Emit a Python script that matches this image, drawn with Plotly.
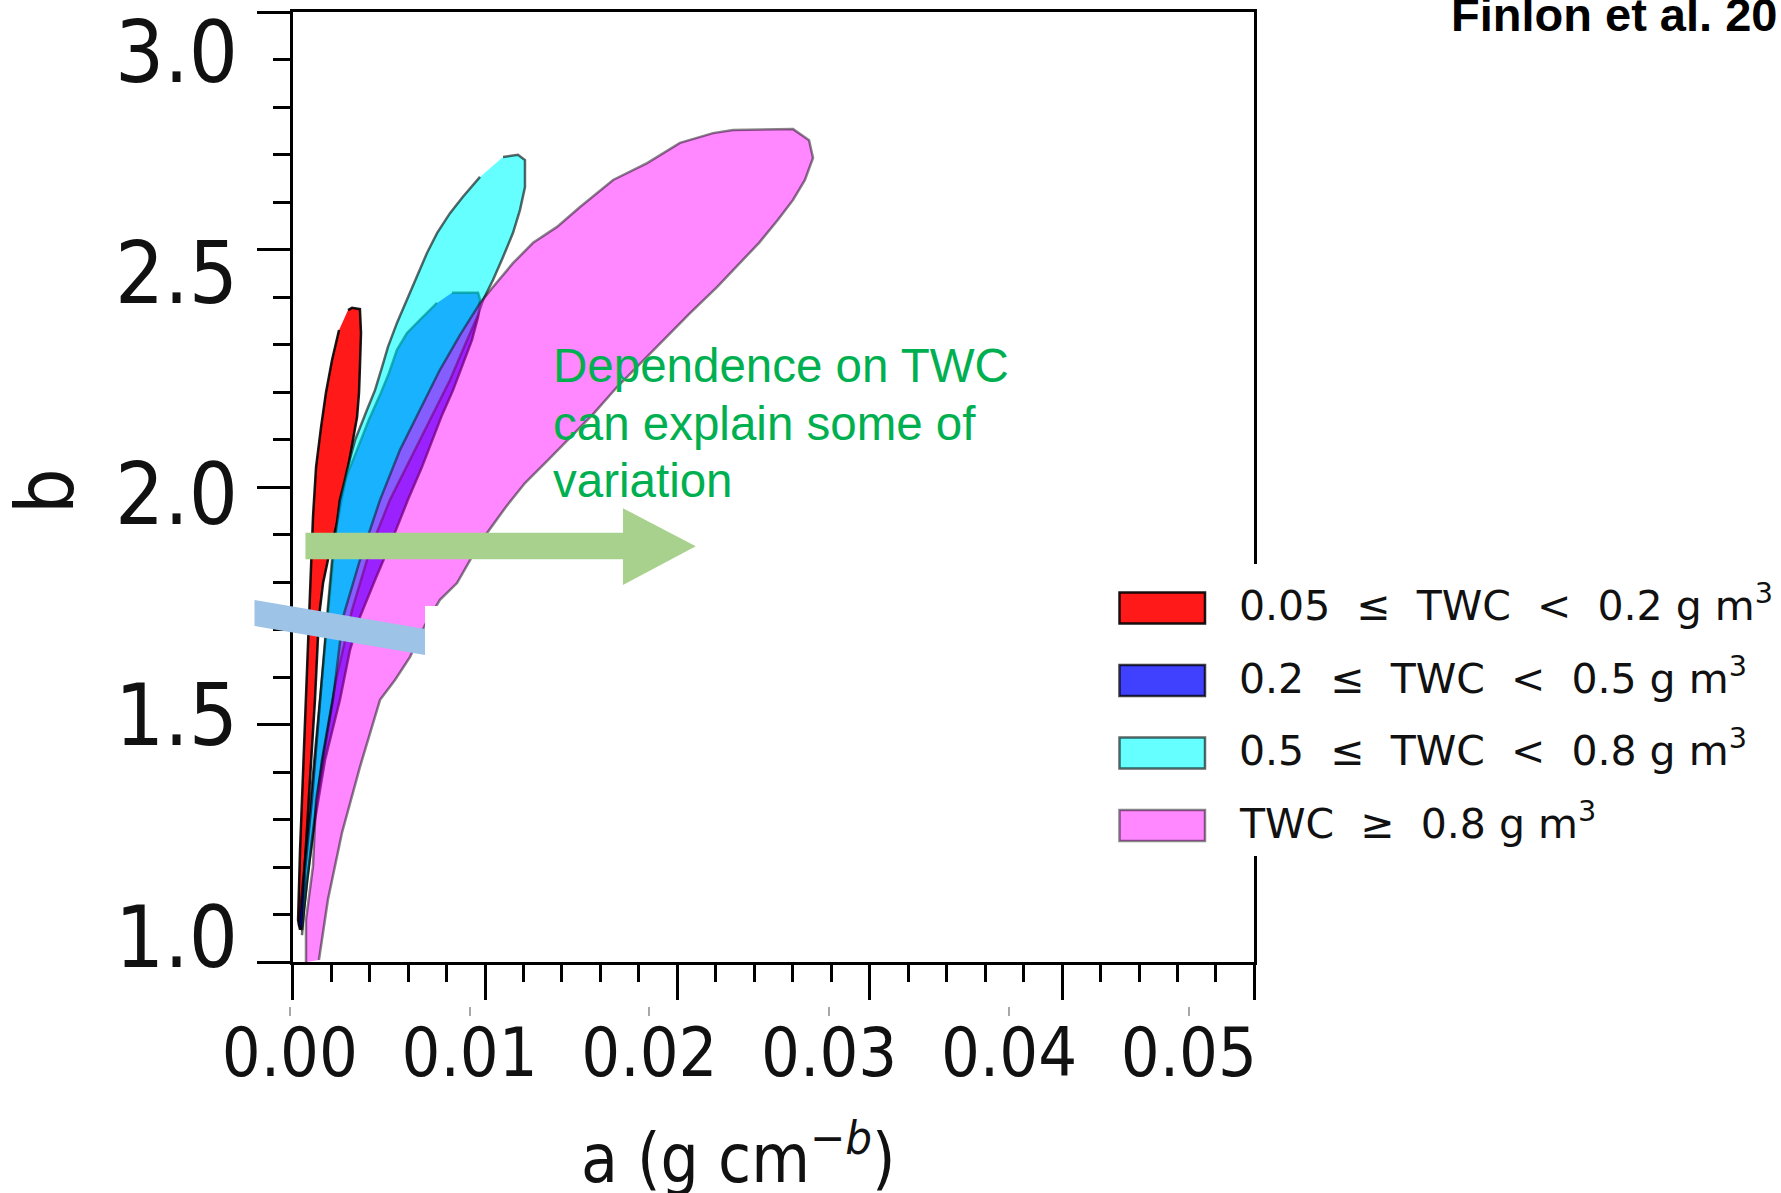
import plotly.graph_objects as go

W, H = 1781, 1193

# ---------------- data ----------------
twc_labels = [
    "0.05\u00a0\u00a0≤\u00a0\u00a0TWC\u00a0\u00a0&lt;\u00a0\u00a00.2 g m<sup>3</sup>",
    "0.2\u00a0\u00a0≤\u00a0\u00a0TWC\u00a0\u00a0&lt;\u00a0\u00a00.5 g m<sup>3</sup>",
    "0.5\u00a0\u00a0≤\u00a0\u00a0TWC\u00a0\u00a0&lt;\u00a0\u00a00.8 g m<sup>3</sup>",
    "TWC\u00a0\u00a0≥\u00a0\u00a00.8 g m<sup>3</sup>",
]

# outline of each TWC region in (a, b) space
red_a = [0.00324, 0.00346, 0.00390, 0.00396, 0.00390, 0.00385, 0.00374, 0.00352, 0.00324, 0.00296,
         0.00268, 0.00224, 0.00185, 0.00162, 0.00140, 0.00112, 0.00090, 0.00068, 0.00057, 0.00046,
         0.00057, 0.00073, 0.00090, 0.00107, 0.00118, 0.00129, 0.00146, 0.00174, 0.00201, 0.00235,
         0.00274]
red_b = [2.416, 2.421, 2.418, 2.364, 2.287, 2.229, 2.174, 2.122, 2.061, 2.003,
         1.942, 1.874, 1.799, 1.722, 1.535, 1.354, 1.196, 1.060, 1.015, 1.037,
         1.196, 1.354, 1.535, 1.722, 1.835, 1.948, 2.061, 2.152, 2.229, 2.303,
         2.371]

blue_a = [0.00902, 0.01047, 0.01058, 0.01047, 0.01013, 0.00963, 0.00908, 0.00847, 0.00791, 0.00735,
          0.00657, 0.00568, 0.00474, 0.00390, 0.00335, 0.00279, 0.00196, 0.00140, 0.00096, 0.00068,
          0.00051, 0.00079, 0.00118, 0.00168, 0.00212, 0.00246, 0.00279, 0.00318, 0.00374, 0.00440,
          0.00507, 0.00552, 0.00596, 0.00652, 0.00724, 0.00819]
blue_b = [2.455, 2.455, 2.439, 2.400, 2.348, 2.292, 2.235, 2.179, 2.122, 2.061,
          1.987, 1.896, 1.806, 1.722, 1.648, 1.535, 1.399, 1.263, 1.128, 1.015,
          1.026, 1.150, 1.309, 1.535, 1.722, 1.874, 1.987, 2.043, 2.100, 2.168,
          2.229, 2.274, 2.326, 2.364, 2.394, 2.432]

cyan_a = [0.01186, 0.01269, 0.01308, 0.01308, 0.01280, 0.01241, 0.01186, 0.01130, 0.01075, 0.01047,
          0.00974, 0.00891, 0.00780, 0.00669, 0.00557, 0.00446, 0.00346, 0.00257, 0.00179, 0.00123,
          0.00079, 0.00068, 0.00085, 0.00123, 0.00168, 0.00207, 0.00240, 0.00279, 0.00318, 0.00363,
          0.00429, 0.00474, 0.00513, 0.00546, 0.00596, 0.00652, 0.00707, 0.00763, 0.00819, 0.00891,
          0.00963, 0.01058]
cyan_b = [2.762, 2.767, 2.755, 2.694, 2.642, 2.590, 2.536, 2.484, 2.439, 2.405,
          2.337, 2.258, 2.168, 2.077, 1.987, 1.874, 1.738, 1.580, 1.399, 1.218,
          1.060, 1.003, 1.150, 1.309, 1.535, 1.722, 1.874, 1.987, 2.055, 2.122,
          2.190, 2.235, 2.287, 2.333, 2.387, 2.439, 2.491, 2.545, 2.590, 2.635,
          2.672, 2.717]

pink_a = [0.00090, 0.00090, 0.00129, 0.00146, 0.00240, 0.00296, 0.00390, 0.00502, 0.00613, 0.00724,
          0.00835, 0.00947, 0.01058, 0.01130, 0.01241, 0.01353, 0.01486, 0.01614, 0.01798, 0.01987,
          0.02170, 0.02354, 0.02465, 0.02799, 0.02888, 0.02910, 0.02865, 0.02799, 0.02715, 0.02610,
          0.02504, 0.02376, 0.02226, 0.02076, 0.01948, 0.01820, 0.01692, 0.01564, 0.01436, 0.01308,
          0.01202, 0.01097, 0.01013, 0.00930, 0.00835, 0.00752, 0.00669, 0.00585, 0.00502, 0.00390,
          0.00290, 0.00212, 0.00162]
pink_b = [0.942, 1.037, 1.159, 1.309, 1.535, 1.722, 1.851, 1.987, 2.100, 2.190,
          2.281, 2.360, 2.432, 2.468, 2.522, 2.568, 2.604, 2.649, 2.710, 2.748,
          2.794, 2.816, 2.823, 2.825, 2.800, 2.760, 2.710, 2.665, 2.620, 2.568,
          2.522, 2.468, 2.409, 2.348, 2.296, 2.242, 2.183, 2.129, 2.077, 2.025,
          1.971, 1.912, 1.858, 1.799, 1.761, 1.704, 1.632, 1.580, 1.535, 1.383,
          1.234, 1.083, 0.947]

x_tick_vals = [0.00, 0.01, 0.02, 0.03, 0.04, 0.05]
x_tick_text = ["0.00", "0.01", "0.02", "0.03", "0.04", "0.05"]
y_tick_vals = [1.0, 1.5, 2.0, 2.5, 3.0]
y_tick_text = ["1.0", "1.5", "2.0", "2.5", "3.0"]

note_lines = ["Dependence on TWC", "can explain some of", "variation"]
source_text = "Finlon et al. 20"

# ---------------- styling ----------------
series_a = [red_a, blue_a, cyan_a, pink_a]
series_b = [red_b, blue_b, cyan_b, pink_b]
base_rgb = ["255,0,0", "0,0,255", "0,255,255", "255,0,255"]
alphas = [0.9, 0.75, 0.6, 0.47]

COND = "DejaVu Sans Condensed, DejaVu Sans, sans-serif"
DEJA = "DejaVu Sans, sans-serif"
ARIAL = "Liberation Sans, Arial, sans-serif"


def XP(x):
    return x / W


def YP(y):
    return 1 - y / H


# pixel geometry of the underlying (raster) axes
A0_PX, A_SCALE = 289.8, 17980.0     # px of a=0, px per unit a
B1_PX, B_SCALE = 936.5, 442.4       # px of b=1, px per unit b
PLOT_L, PLOT_R, PLOT_T, PLOT_B = 292.7, 1254.4, 12.0, 962.0
RAST_L = 280.0

fig = go.Figure()

for a, b, rgb, al, nm in zip(series_a, series_b, base_rgb, alphas, twc_labels):
    fig.add_trace(go.Scatter(
        x=a, y=b, mode="lines", fill="toself",
        fillcolor=f"rgba({rgb},{al})",
        line=dict(color=f"rgba(0,0,0,{al})", width=2.5),
        xaxis="x", yaxis="y", showlegend=False, hoverinfo="skip", name=nm))

# empty trace to materialise the framing axes
fig.add_trace(go.Scatter(x=[], y=[], xaxis="x2", yaxis="y2", showlegend=False, hoverinfo="skip"))

x_range = [(RAST_L - A0_PX) / A_SCALE, (PLOT_R - A0_PX) / A_SCALE]
y_range = [1 + (B1_PX - PLOT_B) / B_SCALE, 1 + (B1_PX - PLOT_T) / B_SCALE]

shapes = []
# green arrow (in data space of the a/b axes)
ar = dict(a0=0.00087, a1=0.01853, a2=0.02258, s0=1.8526, s1=1.9127, h0=1.7945, h1=1.9679, tip=1.882)
shapes.append(dict(
    type="path", xref="x", yref="y", layer="above",
    path=(f"M{ar['a0']},{ar['s0']} L{ar['a1']},{ar['s0']} L{ar['a1']},{ar['h0']} "
          f"L{ar['a2']},{ar['tip']} L{ar['a1']},{ar['h1']} L{ar['a1']},{ar['s1']} "
          f"L{ar['a0']},{ar['s1']} Z"),
    fillcolor="#A9D18E", line=dict(width=0)))
# white patch and light blue bar
shapes.append(dict(type="rect", xref="paper", yref="paper", layer="above",
                   x0=XP(425), x1=XP(447), y0=YP(657), y1=YP(606),
                   fillcolor="white", line=dict(width=0)))
shapes.append(dict(
    type="path", xref="paper", yref="paper", layer="above",
    path=(f"M{XP(254.5)},{YP(600)} L{XP(425)},{YP(629)} "
          f"L{XP(425)},{YP(655)} L{XP(254.5)},{YP(626)} Z"),
    fillcolor="#9DC3E6", line=dict(width=0)))
# legend background
shapes.append(dict(type="rect", xref="paper", yref="paper", layer="above",
                   x0=XP(1100), x1=1.0, y0=YP(856), y1=YP(564),
                   fillcolor="white", line=dict(width=0)))

annotations = []
row0, row_step, patch_h = 608.0, 72.5, 31.0
for i, (rgb, al, lab) in enumerate(zip(base_rgb, alphas, twc_labels)):
    cy = row0 + i * row_step
    shapes.append(dict(type="rect", xref="paper", yref="paper", layer="above",
                       x0=XP(1119.5), x1=XP(1205), y0=YP(cy + patch_h / 2), y1=YP(cy - patch_h / 2),
                       fillcolor=f"rgba({rgb},{al})",
                       line=dict(color=f"rgba(0,0,0,{al})", width=2.5)))
    annotations.append(dict(
        text=lab, xref="paper", yref="paper", x=XP(1237), y=YP(cy - 5),
        xanchor="left", yanchor="middle", showarrow=False,
        font=dict(family=DEJA, size=41, color="#111111")))

note_centers = [365.5, 423.5, 481.0]
for line, cy in zip(note_lines, note_centers):
    annotations.append(dict(
        text=line, xref="paper", yref="paper", x=XP(551), y=YP(cy),
        xanchor="left", yanchor="middle", align="left", showarrow=False,
        font=dict(family=ARIAL, size=47.5, color="#00B050")))

annotations.append(dict(
    text="b", xref="paper", yref="paper", x=XP(45), y=YP(491), textangle=-90,
    xanchor="center", yanchor="middle", showarrow=False,
    font=dict(family=COND, size=80, color="#111111")))

annotations.append(dict(
    text="a (g cm<sup>\u2212<i>b</i></sup>)", xref="paper", yref="paper",
    x=XP(738), y=YP(1154), xanchor="center", yanchor="middle", showarrow=False,
    font=dict(family=COND, size=67, color="#111111")))

annotations.append(dict(
    text=source_text, xref="paper", yref="paper", x=XP(1449), y=YP(43),
    xanchor="left", yanchor="bottom", showarrow=False,
    font=dict(family=ARIAL, size=47, color="black", weight="bold")))

fig.update_layout(
    width=W, height=H, autosize=False,
    margin=dict(l=0, r=0, t=0, b=0, pad=0),
    template="none",
    paper_bgcolor="white", plot_bgcolor="rgba(0,0,0,0)",
    showlegend=False,
    xaxis=dict(domain=[XP(RAST_L), XP(PLOT_R)], range=x_range, anchor="free",
               position=YP(1006), showline=False, showgrid=False, zeroline=False,
               ticks="outside", ticklen=9, tickwidth=2, tickcolor="#a8a8a8",
               tickmode="array", tickvals=x_tick_vals, ticktext=x_tick_text,
               tickfont=dict(family=COND, size=68, color="#111111"),
               ticklabelstandoff=-22, automargin=False, fixedrange=True),
    yaxis=dict(domain=[YP(PLOT_B), YP(PLOT_T)], range=y_range, anchor="free",
               position=XP(238), showline=False, showgrid=False, zeroline=False,
               ticks="", tickmode="array", tickvals=y_tick_vals, ticktext=y_tick_text,
               tickfont=dict(family=COND, size=86, color="#111111"),
               automargin=False, fixedrange=True),
    xaxis2=dict(domain=[XP(PLOT_L), XP(PLOT_R)], range=[0, 0.05], anchor="y2",
                showline=True, linecolor="black", linewidth=3, mirror=True,
                ticks="outside", ticklen=35, tickwidth=3, tickcolor="black",
                tickmode="linear", tick0=0, dtick=0.01, showticklabels=False,
                minor=dict(ticks="outside", ticklen=17, tickwidth=3, tickcolor="black",
                           tick0=0, dtick=0.002, showgrid=False),
                showgrid=False, zeroline=False, automargin=False, fixedrange=True),
    yaxis2=dict(domain=[YP(PLOT_B), YP(PLOT_T)], range=[1, 3], anchor="x2",
                showline=True, linecolor="black", linewidth=3, mirror=True,
                ticks="outside", ticklen=33, tickwidth=3, tickcolor="black",
                tickmode="linear", tick0=1, dtick=0.5, showticklabels=False,
                minor=dict(ticks="outside", ticklen=17, tickwidth=3, tickcolor="black",
                           tick0=1, dtick=0.1, showgrid=False),
                showgrid=False, zeroline=False, automargin=False, fixedrange=True),
    shapes=shapes,
    annotations=annotations,
)

fig.write_html("out.html")
